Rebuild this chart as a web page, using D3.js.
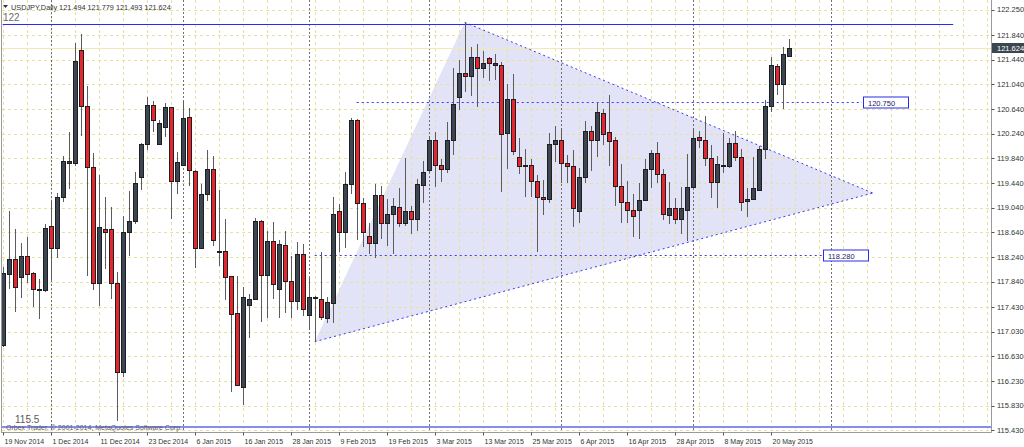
<!DOCTYPE html>
<html><head><meta charset="utf-8">
<script src="https://cdn.jsdelivr.net/npm/d3@7/dist/d3.min.js"></script>
<style>body{margin:0;background:#fff;overflow:hidden}svg{display:block;font-family:"Liberation Sans",Arial,sans-serif}</style>
</head><body><svg id="c" width="1024" height="447"></svg>
<script>
// ---- data (USDJPY daily, bar index 0 = 19 Nov 2014) ----
const opens=[116.81,117.96,118.21,117.91,118.26,117.98,117.72,117.70,118.75,118.38,119.21,119.77,119.77,121.60,120.69,119.70,117.82,118.70,118.70,117.82,116.38,118.65,118.83,119.53,120.07,120.70,120.07,120.35,120.67,119.47,119.73,120.51,119.64,118.38,119.26,119.67,118.32,118.34,117.93,117.33,116.14,117.46,117.56,118.82,117.95,118.50,117.73,118.44,117.85,117.53,118.29,117.30,117.60,117.56,117.26,117.50,118.98,118.64,119.42,120.47,119.11,118.58,118.47,119.25,118.79,118.94,119.05,118.80,118.98,118.85,119.41,119.65,120.13,119.73,119.67,120.14,120.83,121.22,121.18,121.49,121.30,121.46,121.36,121.35,120.25,120.81,119.86,119.71,119.73,119.48,119.22,119.18,120.07,120.13,119.76,119.72,118.99,119.53,120.28,120.13,120.57,120.27,120.13,119.39,119.14,119.01,119.01,119.16,119.67,119.92,119.59,118.92,119.04,118.85,119.01,119.38,120.18,120.13,119.84,119.45,119.73,119.72,120.09,119.87,119.15,119.18,119.33,119.99,120.69,121.34,121.05,121.494];
const highs=[118.08,118.98,118.69,118.47,118.57,117.99,117.88,118.78,119.15,119.28,119.88,120.26,121.71,121.86,121.02,119.92,119.57,119.21,119.05,118.00,118.91,119.31,119.62,120.09,120.83,120.77,120.47,120.73,120.68,119.94,120.77,120.65,119.65,119.42,119.98,119.88,119.33,118.85,117.94,117.93,117.76,117.64,118.87,118.84,118.67,118.81,118.52,118.67,118.26,118.49,118.45,117.90,117.61,118.32,117.60,119.22,119.10,119.62,120.49,120.48,119.20,118.80,119.42,119.40,119.18,119.19,119.36,119.85,119.07,119.51,119.80,120.20,120.27,119.83,120.43,121.30,121.43,122.05,121.64,121.69,121.58,121.48,121.53,121.41,121.05,121.21,120.17,119.99,119.83,119.57,119.49,120.25,120.37,120.33,119.89,119.98,119.68,120.45,120.37,120.75,120.64,120.87,120.19,119.75,119.48,119.27,119.44,119.83,119.98,120.10,119.67,119.45,119.20,119.37,119.91,120.33,120.28,120.52,120.06,119.88,120.25,120.17,120.28,119.99,119.36,119.86,120.04,120.79,121.49,121.37,121.64,121.779];
const lows=[116.78,117.73,117.35,117.57,117.82,117.43,117.24,117.68,117.87,118.22,119.13,119.34,119.71,120.21,117.93,117.71,117.44,118.04,117.56,115.58,116.29,118.26,118.78,119.32,119.98,120.27,120.06,120.18,118.86,119.26,119.72,119.40,118.06,118.37,119.15,118.42,118.10,117.54,116.06,116.15,115.84,116.92,117.55,117.19,117.25,117.56,117.26,117.33,117.25,117.38,117.29,117.06,116.87,117.22,117.17,117.17,118.33,118.39,119.27,118.51,118.40,118.29,118.23,118.53,118.42,118.29,118.72,118.75,118.61,118.66,119.11,119.61,119.37,119.46,119.60,119.89,120.62,120.92,120.85,120.67,121.15,121.10,121.11,119.30,119.67,119.89,119.59,119.22,119.22,118.33,118.92,119.12,119.78,119.44,119.44,118.72,118.79,119.44,119.64,119.87,120.06,119.71,119.07,118.79,118.79,118.56,118.53,119.15,119.36,119.44,118.84,118.77,118.77,118.61,118.50,119.37,120.00,119.72,119.20,119.04,119.60,119.68,119.79,118.99,118.89,119.17,119.32,119.83,120.59,120.86,120.64,121.493];
const closes=[117.98,118.21,117.76,118.26,117.97,117.72,117.70,118.71,118.38,119.21,119.79,119.79,121.42,120.69,119.70,117.82,118.72,118.64,117.82,116.38,118.65,118.83,119.44,120.07,120.70,120.46,120.41,120.67,119.47,119.78,120.49,119.65,118.39,119.26,119.67,118.51,118.34,117.92,117.32,116.16,117.60,117.56,118.82,117.95,118.50,117.80,118.45,117.86,117.53,118.29,117.39,117.60,117.57,117.27,117.51,118.94,118.64,119.42,120.47,119.11,118.64,118.47,119.25,118.79,118.94,119.06,118.80,118.98,118.85,119.42,119.62,120.13,119.73,119.67,120.13,120.72,121.22,121.18,121.49,121.30,121.38,121.38,121.38,120.23,120.80,119.96,119.71,119.73,119.48,119.22,119.18,120.07,120.13,119.76,119.72,119.03,119.53,120.28,120.13,120.59,120.23,120.12,119.39,119.14,119.01,118.91,119.16,119.67,119.92,119.59,118.93,119.04,118.85,119.03,119.38,120.17,120.13,119.84,119.45,119.75,119.74,120.09,119.87,119.14,119.18,119.36,119.99,120.69,121.35,121.04,121.53,121.624];
const dateLabels=["19 Nov 2014","1 Dec 2014","11 Dec 2014","23 Dec 2014","6 Jan 2015","16 Jan 2015","28 Jan 2015","9 Feb 2015","19 Feb 2015","3 Mar 2015","13 Mar 2015","25 Mar 2015","6 Apr 2015","16 Apr 2015","28 Apr 2015","8 May 2015","20 May 2015"];
const dateLabelBars=[0,8,16,24,32,40,48,56,64,72,80,88,96,104,112,120,128];
const priceTicks=[122.250,121.840,121.440,121.040,120.640,120.240,119.840,119.440,119.040,118.640,118.240,117.840,117.430,117.030,116.630,116.230,115.830,115.430];
const monthStartBars=[8,30,51,71,93,115,138];
const trianglePts=[[52,116.868],[77,122.046],[145,119.278]];
const levelTop={price:122.02,from:0,to:158.4,label:"122"};
const levelBottom={price:115.5,from:0,to:164.7,label:"115.5"};
const dottedLevels=[{price:120.75,from:59,to:143.2,label:"120.750"},{price:118.28,from:52,to:136.5,label:"118.280"}];
const lastPrice=121.624;
const header="USDJPY,Daily 121.494 121.779 121.493 121.624";
const copyright="Orbex Trader, \u00a9 2001-2014, MetaQuotes Software Corp.";

// ---- drawing ----
const svg=d3.select("#c");
const L=2, R=991.5, T=0, B=432.5;
const x=d3.scaleLinear().domain([0,164.7]).range([2.7,991]);
const y=d3.scaleLinear().domain([115.43,122.25]).range([430.4,9.7]);
const px=v=>Math.round(x(v))+0.5;
const py=v=>Math.round(y(v))+0.5;

svg.append("rect").attr("width",1024).attr("height",447).attr("fill","#fff");
svg.append("defs").append("clipPath").attr("id","clip").append("rect").attr("x",L).attr("y",T).attr("width",R-L).attr("height",B-T);
const g=svg.append("g").attr("clip-path","url(#clip)");

// triangle fill
g.append("path").attr("d",d3.line().x(d=>x(d[0])).y(d=>y(d[1]))(trianglePts)+"Z")
  .attr("fill","#e3e3f8").attr("stroke","none");

// grid
const gridColor="#e8e0a0";
g.selectAll(".hg").data(priceTicks).join("line").attr("x1",L).attr("x2",R)
  .attr("y1",d=>py(d)).attr("y2",d=>py(d)).attr("stroke",gridColor).attr("stroke-dasharray","3,3");
g.selectAll(".vg").data(d3.range(0,165,4)).join("line").attr("y1",T).attr("y2",B)
  .attr("x1",d=>px(d)).attr("x2",d=>px(d)).attr("stroke",gridColor).attr("stroke-dasharray","3,3");
// month separators
g.selectAll(".ms").data(monthStartBars).join("line").attr("y1",T).attr("y2",B)
  .attr("x1",d=>px(d)).attr("x2",d=>px(d)).attr("stroke","#707070").attr("stroke-dasharray","2,2");

// last price line
g.append("line").attr("x1",L).attr("x2",R).attr("y1",py(lastPrice)).attr("y2",py(lastPrice)).attr("stroke","#f0e9b4");

// triangle dotted edges
const triEdge=(a,b)=>g.append("line").attr("x1",x(a[0])).attr("y1",y(a[1])).attr("x2",x(b[0])).attr("y2",y(b[1]))
  .attr("stroke","#3a3af0").attr("stroke-width",1).attr("stroke-dasharray","2,3");
triEdge(trianglePts[1],trianglePts[2]);
triEdge(trianglePts[0],trianglePts[2]);

// dotted horizontal levels
dottedLevels.forEach(l=>{
  g.append("line").attr("x1",x(l.from)).attr("x2",x(l.to)).attr("y1",py(l.price)).attr("y2",py(l.price))
   .attr("stroke","#3a3af0").attr("stroke-dasharray","2,3");
});

// solid levels
g.append("line").attr("x1",x(levelTop.from)).attr("x2",x(levelTop.to)).attr("y1",py(levelTop.price)).attr("y2",py(levelTop.price))
  .attr("stroke","#2a2af0").attr("stroke-width",1);
g.append("line").attr("x1",x(levelBottom.from)-4).attr("x2",R).attr("y1",Math.round(y(levelBottom.price))+1).attr("y2",Math.round(y(levelBottom.price))+1)
  .attr("stroke","#8a8af2").attr("stroke-width",2);

// candles
const idx=d3.range(opens.length);
g.selectAll(".wick").data(idx).join("line")
  .attr("x1",i=>px(i)).attr("x2",i=>px(i)).attr("y1",i=>Math.round(y(highs[i]))).attr("y2",i=>Math.round(y(lows[i])))
  .attr("stroke","#5c5c5c").attr("stroke-width",1);
g.selectAll(".body").data(idx).join("rect")
  .attr("x",i=>px(i)-2).attr("width",4)
  .attr("y",i=>Math.round(y(Math.max(opens[i],closes[i])))+0.5)
  .attr("height",i=>Math.max(1,Math.round(y(Math.min(opens[i],closes[i])))-Math.round(y(Math.max(opens[i],closes[i])))))
  .attr("fill",i=>closes[i]>=opens[i]?"#3b4652":"#e4262f")
  .attr("stroke","#1e1e1e").attr("stroke-width",1);

// level labels
svg.append("text").attr("x",3).attr("y",20.5).attr("font-size",10).attr("fill","#6a6a6a").text(levelTop.label);
svg.append("text").attr("x",15).attr("y",423).attr("font-size",10).attr("fill","#5a5a5a").text(levelBottom.label);
dottedLevels.forEach(l=>{
  const bx=x(l.to)+1, by=py(l.price);
  svg.append("rect").attr("x",Math.round(bx)+0.5).attr("y",by-5.5).attr("width",45).attr("height",11).attr("fill","#fff").attr("stroke","#2a2af0");
  svg.append("text").attr("x",Math.round(bx)+5).attr("y",by+3).attr("font-size",7.5).attr("fill","#1a1a6a").text(l.label);
});

// copyright
svg.append("text").attr("x",6).attr("y",430).attr("font-size",7).attr("fill","#5c5c5c").text(copyright);

// frame
svg.append("line").attr("x1",1.5).attr("x2",1.5).attr("y1",0).attr("y2",B).attr("stroke","#9a9a9a");
svg.append("line").attr("x1",1).attr("x2",R).attr("y1",B).attr("y2",B).attr("stroke","#9a9a9a");
svg.append("line").attr("x1",R).attr("x2",R).attr("y1",0).attr("y2",B).attr("stroke","#9a9a9a");

// right axis
const ra=svg.append("g");
ra.selectAll("line").data(priceTicks).join("line").attr("x1",R).attr("x2",R+3).attr("y1",d=>py(d)).attr("y2",d=>py(d)).attr("stroke","#555");
ra.selectAll("text").data(priceTicks).join("text").attr("x",997).attr("y",d=>y(d)+2.6).attr("font-size",7.5).attr("fill","#333")
  .text(d=>d3.format(".3f")(d));
// last price tag
svg.append("rect").attr("x",992).attr("y",Math.round(y(lastPrice))-5).attr("width",32).attr("height",10).attr("fill","#3c4650");
svg.append("text").attr("x",997).attr("y",y(lastPrice)+2.6).attr("font-size",7.5).attr("fill","#fff").text(d3.format(".3f")(lastPrice));

// bottom axis
const ba=svg.append("g");
ba.selectAll("line").data(dateLabelBars).join("line").attr("x1",d=>px(d)).attr("x2",d=>px(d)).attr("y1",B).attr("y2",B+3).attr("stroke","#555");
ba.selectAll("text").data(dateLabels).join("text").attr("x",(d,i)=>px(dateLabelBars[i])+1).attr("y",443.5).attr("font-size",7).attr("fill","#333").text(d=>d);

// header
svg.append("path").attr("d","M3,5 L8,5 L5.5,8 Z").attr("fill","#333");
svg.append("text").attr("x",11).attr("y",10).attr("font-size",7.3).attr("fill","#333").text(header);
</script></body></html>
